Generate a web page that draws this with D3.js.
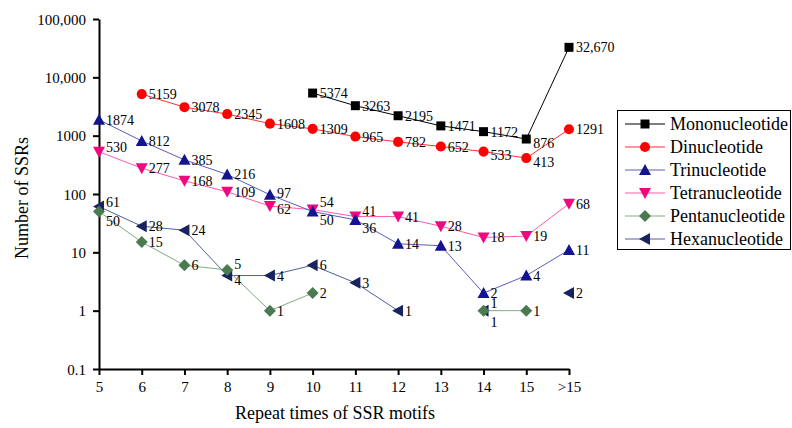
<!DOCTYPE html>
<html><head><meta charset="utf-8">
<script src="https://cdn.jsdelivr.net/npm/d3@7/dist/d3.min.js"></script>
<style>
html,body{margin:0;padding:0;background:#fff;}
</style></head>
<body><svg id="c" width="792" height="428"></svg>
<script>
const categories = ["5","6","7","8","9","10","11","12","13","14","15",">15"];
const yTicks = [0.1, 1, 10, 100, 1000, 10000, 100000];
const yTickLabels = ["0.1","1","10","100","1000","10,000","100,000"];
const seriesNames = ["Mononucleotide","Dinucleotide","Trinucleotide","Tetranucleotide","Pentanucleotide","Hexanucleotide"];
const mono  = [null,null,null,null,null,5374,3263,2195,1471,1172,876,32670];
const di    = [null,5159,3078,2345,1608,1309,965,782,652,533,413,1291];
const tri   = [1874,812,385,216,97,50,36,14,13,2,4,11];
const tetra = [530,277,168,109,62,54,41,41,28,18,19,68];
const penta = [50,15,6,5,1,2,null,null,null,1,1,null];
const hexa  = [61,28,24,4,4,6,3,1,null,1,null,2];
const xTitle = "Repeat times of SSR motifs";
const yTitle = "Number of SSRs";

const FONT = '"Liberation Serif"';
const values = [mono, di, tri, tetra, penta, hexa];
const styles = [
  {marker:"#000000", line:"#000000", sym:"square"},
  {marker:"#ff0000", line:"#ff3030", sym:"circle"},
  {marker:"#141490", line:"#5a5ac0", sym:"up"},
  {marker:"#f0087e", line:"#ff5aa8", sym:"down"},
  {marker:"#4a7a50", line:"#80ac84", sym:"diamond"},
  {marker:"#18235f", line:"#50609a", sym:"left"}
];
const labelOffsets = {
  "4-0":[7,14], "2-5":[7,13], "3-5":[7,-3], "2-6":[7,13], "3-6":[7,-1],
  "5-3":[7,9], "4-3":[7,-1], "5-9":[7,-3], "4-9":[7,16],
  "0-10":[7,9], "1-10":[7,9], "1-9":[7,8], "1-8":[7,5], "0-9":[7,5],
  "5-0":[7,0], "3-0":[7,0], "2-4":[7,3], "3-4":[7,8]
};

const svg = d3.select("#c");
const x = d3.scalePoint().domain(categories).range([99, 569]).padding(0);
const y = d3.scaleLog().domain([0.1, 100000]).range([369, 19]);

const yAxis = d3.axisLeft(y).tickValues(yTicks).tickSize(6).tickSizeOuter(0)
  .tickFormat((d,i)=>yTickLabels[i]);
const gy = svg.append("g").attr("transform","translate(99,0)").call(yAxis);
gy.attr("font-family", null);
gy.select(".domain").attr("stroke","#000").attr("stroke-width",2);
gy.selectAll(".tick line").attr("stroke","#000").attr("stroke-width",2);
gy.selectAll(".tick text").attr("x",-13).attr("dy","0.35em")
  .style("font-family",FONT).style("font-size","15px").attr("fill","#000");

const xAxis = d3.axisBottom(x).tickSize(6).tickSizeOuter(0);
const gx = svg.append("g").attr("transform","translate(0,369)").call(xAxis);
gx.attr("font-family", null);
gx.select(".domain").attr("stroke","#000").attr("stroke-width",2);
gx.selectAll(".tick line").attr("stroke","#000").attr("stroke-width",2);
gx.selectAll(".tick text").attr("y",12).attr("dy","0.71em")
  .style("font-family",FONT).style("font-size","15px").attr("fill","#000");

svg.append("text").attr("x",335).attr("y",419).attr("text-anchor","middle")
  .style("font-family",FONT).style("font-size","18px").attr("fill","#000").text(xTitle);
svg.append("text").attr("transform","translate(28,198) rotate(-90)").attr("text-anchor","middle")
  .style("font-family",FONT).style("font-size","18px").attr("fill","#000").text(yTitle);

function markerPath(sym){
  switch(sym){
    case "square": return "M-4.5,-4.5H4.5V4.5H-4.5Z";
    case "circle": return d3.symbol(d3.symbolCircle, 80)();
    case "up": return "M0,-6L6,5H-6Z";
    case "down": return "M0,6L6,-5H-6Z";
    case "diamond": return "M0,-6L6,0L0,6L-6,0Z";
    case "left": return "M-6,0L5,-6V6Z";
  }
}

const line = d3.line().defined(d=>d.v!=null).x(d=>x(d.c)).y(d=>y(d.v));
for (let s = values.length-1; s >= 0; s--) {
  const pts = values[s].map((v,i)=>({c:categories[i], v}));
  svg.append("path").datum(pts).attr("d", line).attr("fill","none")
    .attr("stroke", styles[s].line).attr("stroke-width",1);
}
for (let s = values.length-1; s >= 0; s--) {
  const pts = values[s].map((v,i)=>({c:categories[i], v, i})).filter(d=>d.v!=null);
  const g = svg.append("g");
  g.selectAll("path").data(pts).join("path")
    .attr("d", markerPath(styles[s].sym))
    .attr("transform", d=>`translate(${x(d.c)},${y(d.v)})`)
    .attr("fill", styles[s].marker);
  g.selectAll("text").data(pts).join("text")
    .attr("x", d=>x(d.c) + (labelOffsets[s+"-"+d.i]||[7,5])[0])
    .attr("y", d=>y(d.v) + (labelOffsets[s+"-"+d.i]||[7,5])[1])
    .style("font-family",FONT).style("font-size","14px").attr("fill","#000")
    .text(d=>d.v >= 10000 ? d3.format(",")(d.v) : String(d.v));
}

const lg = svg.append("g");
lg.append("rect").attr("x",617.5).attr("y",110.5).attr("width",173).attr("height",139)
  .attr("fill","#fff").attr("stroke","#000").attr("stroke-width",1);
seriesNames.forEach((n,s)=>{
  const yy = 124 + s*23;
  lg.append("line").attr("x1",625).attr("x2",665).attr("y1",yy).attr("y2",yy)
    .attr("stroke", styles[s].line).attr("stroke-width",1.2);
  lg.append("path").attr("d", markerPath(styles[s].sym))
    .attr("transform",`translate(645,${yy})`).attr("fill", styles[s].marker);
  lg.append("text").attr("x",670).attr("y",yy).attr("dy","0.35em")
    .style("font-family",FONT).style("font-size","18px").attr("fill","#000").text(n);
});
</script></body></html>
